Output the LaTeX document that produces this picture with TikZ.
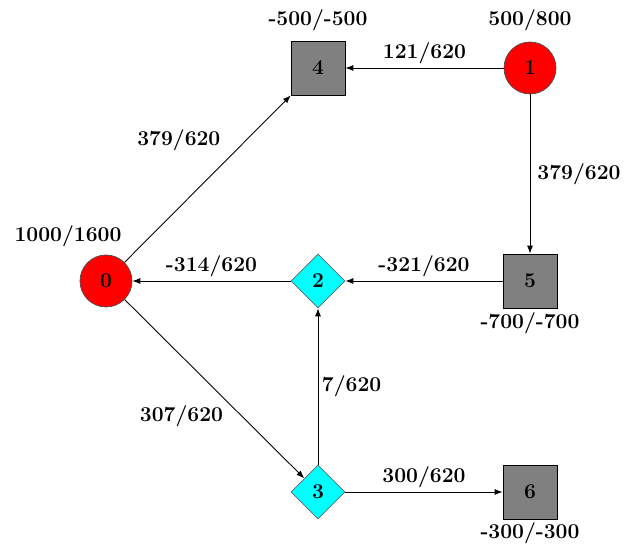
\documentclass[tikz,border=0pt]{standalone}
\usepackage{tikz}
\usetikzlibrary{arrows.meta, shapes.geometric}
\usepackage{xcolor}
\definecolor{srcred}{RGB}{255,0,0}
\definecolor{sinkgray}{RGB}{128,128,128}
\definecolor{tranc}{RGB}{0,255,255}

\begin{document}
\begin{tikzpicture}[
  src/.style={circle,draw=black!70,fill=srcred,minimum size=1.04cm,inner sep=0pt,
              font=\large\bfseries},
  sink/.style={rectangle,draw=black,fill=sinkgray,minimum size=1.08cm,inner sep=0pt,
               font=\large\bfseries},
  trans/.style={diamond,draw=black!60,fill=tranc,minimum size=1.08cm,inner sep=0pt,
                shape aspect=1,font=\large\bfseries},
  lbl/.style={font=\large\bfseries,inner sep=2pt},
  flow/.style={-{Latex[length=1.6mm,width=1.2mm]},line width=0.5pt}
]
\useasboundingbox (0,0) rectangle (12.52,10.94);
% nodes
\node[src]   (n0) at (2.12,5.32)  {0};
\node[src]   (n1) at (10.60,9.58) {1};
\node[trans] (n2) at (6.36,5.32)  {2};
\node[trans] (n3) at (6.36,1.10)  {3};
\node[sink]  (n4) at (6.36,9.58)  {4};
\node[sink]  (n5) at (10.60,5.32) {5};
\node[sink]  (n6) at (10.60,1.10) {6};
% supply / demand
\node[lbl] (b0) at (1.36,6.22)  {1000/1600};
\node[lbl] (b1) at (10.60,10.54) {500/800};
\node[lbl] (b4) at (6.36,10.54)  {-500/-500};
\node[lbl] (b5) at (10.60,4.48)  {-700/-700};
\node[lbl] (b6) at (10.60,0.28)  {-300/-300};
% arcs with flow/capacity
\draw[flow] (n1) -- node[lbl,above]{121/620} (n4);
\draw[flow] (n1) -- node[lbl,right,xshift=2pt]{379/620} (n5);
\draw[flow] (n0) -- node[lbl,above left,pos=0.6,yshift=4pt]{379/620} (n4);
\draw[flow] (n2) -- node[lbl,above]{-314/620} (n0);
\draw[flow] (n5) -- node[lbl,above]{-321/620} (n2);
\draw[flow] (n3) -- node[lbl,right]{7/620} (n2);
\draw[flow] (n0) -- node[lbl,below left,pos=0.57]{307/620} (n3);
\draw[flow] (n3) -- node[lbl,above]{300/620} (n6);
\end{tikzpicture}
\end{document}
